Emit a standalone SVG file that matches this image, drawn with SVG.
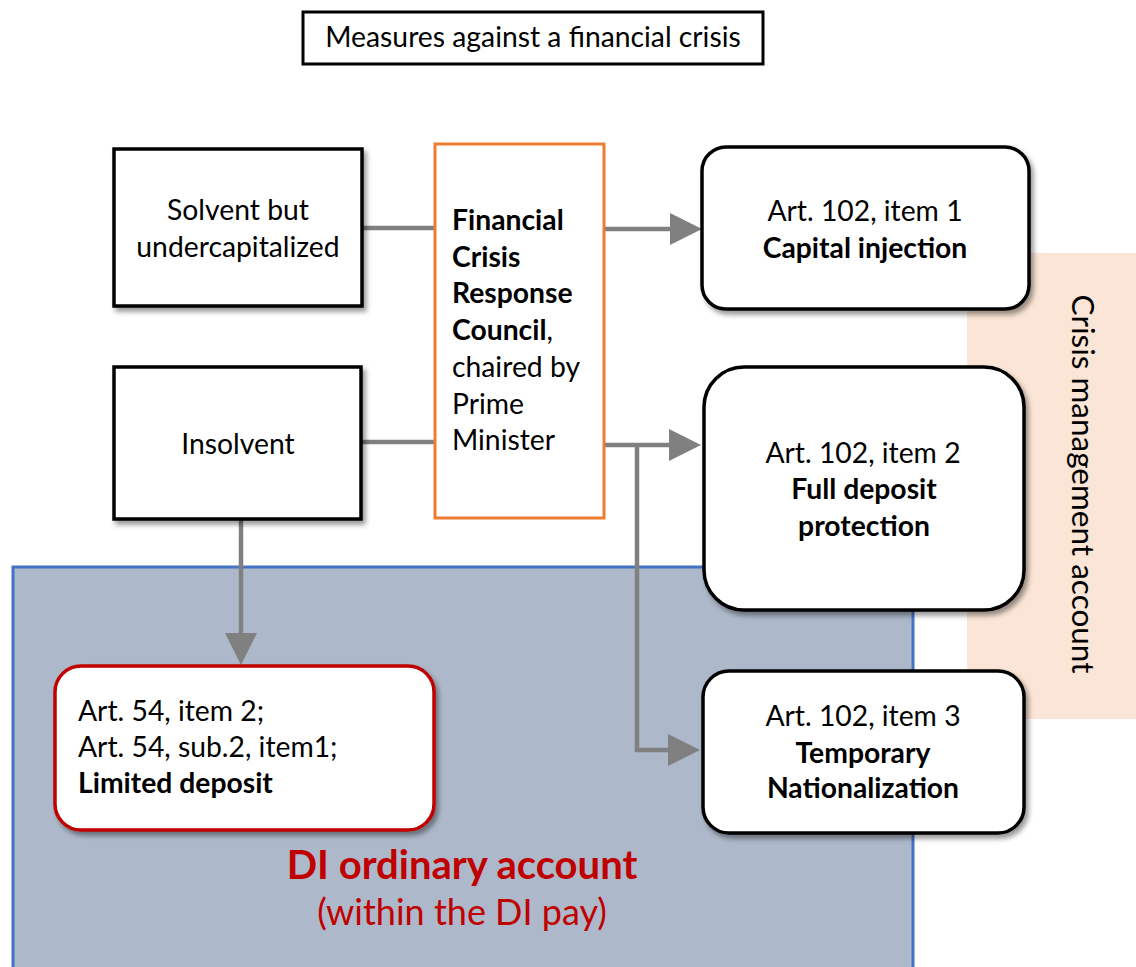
<svg xmlns="http://www.w3.org/2000/svg" width="1136" height="967" viewBox="0 0 1136 967">
<defs>
<filter id="sh" x="-10%" y="-10%" width="130%" height="130%">
<feDropShadow dx="3" dy="4" stdDeviation="2.5" flood-color="#000" flood-opacity="0.4"/>
</filter>
<marker id="ah" markerUnits="userSpaceOnUse" markerWidth="32" markerHeight="32" refX="0" refY="16" orient="auto">
<path d="M0,0 L32,16 L0,32 z" fill="#808080"/>
</marker>
<style>
text{font-family:Lato,"Liberation Sans",sans-serif;font-size:28.3px;fill:#000}
.b{font-weight:bold}
.c{text-anchor:middle}
.box{fill:#fff;stroke:#000;stroke-width:3.5}
.conn{fill:none;stroke:#808080;stroke-width:4.5}
.red{fill:#C00000}
</style>
</defs>
<rect x="0" y="0" width="1136" height="967" fill="#fff"/>

<g id="crisis-account">
<rect x="967" y="253" width="169" height="466" fill="#FBE5D6"/>
<text transform="translate(1072,484) rotate(90)" class="c" style="font-size:31.5px">Crisis  management  account</text>
</g>

<g id="di-ordinary-account">
<rect x="13" y="567" width="900" height="420" fill="#ADB9CA" stroke="#4472C4" stroke-width="3"/>
<text x="462" y="879" class="c b red" style="font-size:40px">DI ordinary account</text>
<text x="462" y="925" class="c red" style="font-size:36px">(within the DI pay)</text>
</g>

<g id="connectors">
<path class="conn" d="M362,228 H435"/>
<path class="conn" d="M361,442 H435"/>
<path class="conn" d="M604,229 H670" marker-end="url(#ah)"/>
<path class="conn" d="M604,445 H669" marker-end="url(#ah)"/>
<path class="conn" d="M637,445 V750 H668" marker-end="url(#ah)"/>
<path class="conn" d="M241,519 V633" marker-end="url(#ah)"/>
</g>

<g id="title">
<rect x="303" y="12" width="460" height="52" fill="#fff" stroke="#000" stroke-width="3"/>
<text x="533" y="47" class="c">Measures against a financial crisis</text>
</g>

<g id="solvent">
<rect class="box" x="114" y="149" width="248" height="157" filter="url(#sh)"/>
<text x="238" y="220" class="c">Solvent but</text>
<text x="238" y="257" class="c">undercapitalized</text>
</g>

<g id="insolvent">
<rect class="box" x="114" y="367" width="247" height="152" filter="url(#sh)"/>
<text x="238" y="454" class="c">Insolvent</text>
</g>

<g id="council">
<rect x="435" y="144" width="169" height="374" fill="#fff" stroke="#ED7D31" stroke-width="3"/>
<text x="452" y="230" class="b">Financial</text>
<text x="452" y="267" class="b">Crisis</text>
<text x="452" y="303" class="b">Response</text>
<text x="452" y="340"><tspan class="b">Council</tspan>,</text>
<text x="452" y="377">chaired by</text>
<text x="452" y="414">Prime</text>
<text x="452" y="450">Minister</text>
</g>

<g id="item1">
<rect class="box" x="702" y="147" width="327" height="162" rx="24" filter="url(#sh)"/>
<text x="865" y="221" class="c">Art. 102, item 1</text>
<text x="865" y="258" class="c b">Capital injection</text>
</g>

<g id="item2">
<rect class="box" x="704" y="367" width="320" height="243" rx="40" filter="url(#sh)"/>
<text x="863" y="463" class="c">Art. 102, item 2</text>
<text x="864" y="499" class="c b">Full deposit</text>
<text x="864" y="536" class="c b">protection</text>
</g>

<g id="item3">
<rect class="box" x="703" y="671" width="321" height="162" rx="26" filter="url(#sh)"/>
<text x="863" y="726" class="c">Art. 102, item 3</text>
<text x="863" y="763" class="c b">Temporary</text>
<text x="863" y="798" class="c b">Nationalization</text>
</g>

<g id="limited-deposit">
<rect x="55" y="666" width="379" height="164" rx="26" fill="#fff" stroke="#C00000" stroke-width="3.5" filter="url(#sh)"/>
<text x="78" y="721">Art. 54, item 2;</text>
<text x="78" y="757">Art. 54, sub.2, item1;</text>
<text x="78" y="793" class="b">Limited deposit</text>
</g>
</svg>
